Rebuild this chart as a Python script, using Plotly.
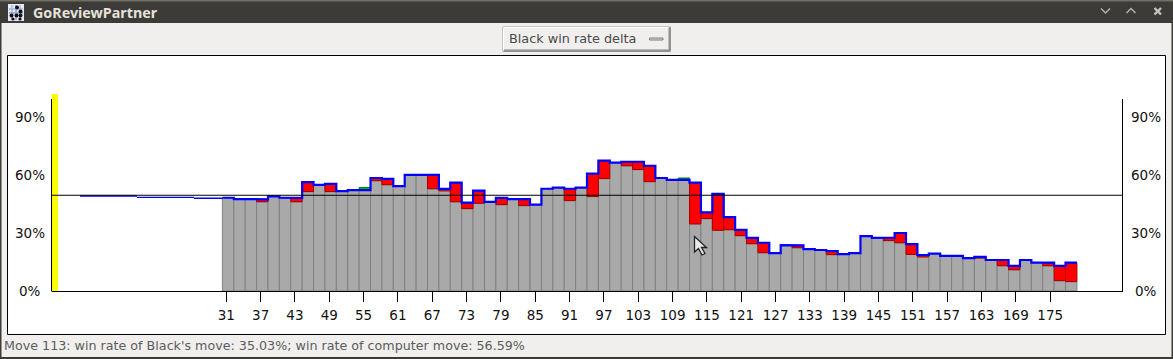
import plotly.graph_objects as go

W, H = 1173, 359

# ---- data (percent) ----
moves = list(range(31, 181, 2))
black_move_rate = [
    48.7, 48.0, 48.0, 46.6, 49.4, 48.7, 46.6, 51.9, 55.4, 51.9,
    52.2, 52.7, 54.1, 57.6, 55.5, 54.8, 60.6, 60.6, 53.4, 52.3,
    46.6, 43.0, 45.8, 46.5, 45.1, 48.0, 44.6, 45.1, 53.4, 54.0,
    47.2, 54.0, 49.3, 58.7, 67.0, 65.4, 63.4, 57.1, 59.0, 58.0,
    59.0, 35.03, 37.8, 31.7, 32.0, 28.9, 24.7, 20.0, 19.8, 24.0,
    22.6, 21.9, 21.4, 19.0, 19.3, 19.8, 28.7, 27.7, 26.3, 25.2,
    19.1, 17.8, 19.5, 18.3, 18.3, 17.2, 17.2, 16.2, 13.2, 11.1,
    16.2, 14.8, 13.2, 5.4, 4.9,
]
computer_move_rate = [
    48.7, 48.0, 48.0, 47.9, 49.4, 48.7, 48.6, 56.9, 55.4, 55.9,
    52.2, 52.7, 52.7, 59.0, 58.5, 54.8, 60.6, 60.6, 60.6, 53.3,
    56.6, 46.1, 52.4, 46.5, 48.6, 48.0, 48.0, 45.1, 53.4, 54.0,
    53.4, 54.0, 61.3, 68.1, 67.0, 67.5, 67.5, 65.4, 59.0, 58.0,
    58.0, 56.59, 41.1, 50.7, 38.6, 31.9, 27.7, 25.2, 19.8, 24.0,
    23.8, 21.9, 21.4, 20.9, 19.3, 19.8, 28.7, 27.7, 27.9, 30.3,
    24.5, 18.8, 19.5, 18.3, 18.3, 17.2, 17.8, 16.2, 16.2, 13.1,
    16.2, 14.8, 14.8, 13.1, 14.8,
]
early_edges = [5, 15, 25, 30]
early_rate = [49.6, 48.9, 48.4]
tick_moves = list(range(31, 176, 6))
y_tick_values = [0, 30, 60, 90]
title_text = "GoReviewPartner"
menu_text = "Black win rate delta"
status_text = "Move 113: win rate of Black's move: 35.03%; win rate of computer move: 56.59%"

# ---- layout helpers ----
def px(x): return x / W
def py(y): return 1 - y / H
def rect(x0, y0, x1, y1, fill, line=None, lw=1, layer="below"):
    return dict(type="rect", xref="paper", yref="paper", x0=px(x0), x1=px(x1), y0=py(y0), y1=py(y1),
                fillcolor=fill, line=dict(color=line or fill, width=lw if line else 0), layer=layer)
def seg(x0, y0, x1, y1, color, lw=1, layer="above"):
    return dict(type="line", xref="paper", yref="paper", x0=px(x0), x1=px(x1), y0=py(y0), y1=py(y1),
                line=dict(color=color, width=lw), layer=layer)
def poly(points, fill="rgba(0,0,0,0)", line="#000", lw=1, layer="above"):
    path = "M " + " L ".join(f"{px(a):.5f},{py(b):.5f}" for a, b in points)
    return dict(type="path", xref="paper", yref="paper", path=path + (" Z" if fill != "rgba(0,0,0,0)" else ""),
                fillcolor=fill, line=dict(color=line, width=lw), layer=layer)
def dot(cx, cy, r, color):
    return dict(type="circle", xref="paper", yref="paper", x0=px(cx-r), x1=px(cx+r), y0=py(cy-r), y1=py(cy+r),
                fillcolor=color, line=dict(width=0), layer="above")

GRAY, GRAY_EDGE = "#a9a9a9", "#808080"
bar_width = 2

gray_h = [min(a, b) for a, b in zip(black_move_rate, computer_move_rate)]
red_m = [m for m, a, b in zip(moves, black_move_rate, computer_move_rate) if b > a]
red_base = [a for a, b in zip(black_move_rate, computer_move_rate) if b > a]
red_h = [b - a for a, b in zip(black_move_rate, computer_move_rate) if b > a]
green_m = [m for m, a, b in zip(moves, black_move_rate, computer_move_rate) if a > b]
green_base = [b for a, b in zip(black_move_rate, computer_move_rate) if a > b]
green_h = [a - b for a, b in zip(black_move_rate, computer_move_rate) if a > b]

step_x, step_y = [], []
for m, b in zip(moves, computer_move_rate):
    step_x += [m - 1, m + 1]
    step_y += [b, b]
early_x, early_y = [], []
for i, v in enumerate(early_rate):
    early_x += [early_edges[i], early_edges[i + 1], None]
    early_y += [v, v, None]

fig = go.Figure()
fig.add_bar(x=moves, y=gray_h, width=bar_width, marker=dict(color=GRAY, line=dict(color=GRAY_EDGE, width=1)), xaxis="x", yaxis="y")
fig.add_bar(x=red_m, y=red_h, base=red_base, width=bar_width, marker=dict(color="#ff0000", line=dict(color="#a00000", width=1)), xaxis="x", yaxis="y")
fig.add_bar(x=green_m, y=green_h, base=green_base, width=bar_width, marker=dict(color="#00b000", line=dict(color="#008000", width=1)), xaxis="x", yaxis="y")
fig.add_scatter(x=step_x, y=step_y, mode="lines", line=dict(color="#0000ff", width=2.2), xaxis="x", yaxis="y")
fig.add_scatter(x=early_x, y=early_y, mode="lines", line=dict(color="#0000ff", width=1.4), xaxis="x", yaxis="y")
fig.add_scatter(x=tick_moves, y=[0] * len(tick_moves), mode="none", xaxis="x2", yaxis="y2", hoverinfo="skip")

plot_l, plot_r, plot_b, plot_t = 51.5, 1122.5, 291.0, 99.5
dom_x = [px(plot_l), px(plot_r)]
dom_y = [py(plot_b), py(plot_t)]

shapes = [
    rect(0, 0, W, 23, "#3c3b37"),
    rect(0, 0, W, 1.5, "#6f6f62"),
    rect(0, 357, W, H, "#3c3b37"),
    rect(0, 23, 1.5, 357, "#3c3b37"),
    rect(W - 1.5, 23, W, 357, "#3c3b37"),
    rect(7.5, 55.5, 1165.5, 334.5, "#ffffff", "#000000", 1),
    # dropdown
    rect(503, 27, 670.5, 51.5, "#f0efed", "#9a9a9a", 1),
    seg(503.5, 27.5, 669, 27.5, "#ffffff"),
    seg(503.5, 27.5, 503.5, 50.5, "#ffffff"),
    seg(504, 50.5, 670, 50.5, "#8e8e8e", 2),
    seg(669.5, 27.5, 669.5, 51, "#8e8e8e", 2),
    rect(649.5, 38, 663, 40, "#d8d8d8", "#808080", 1),
    # plot furniture
    rect(51.5, 94, 58, 291, "#ffff00", layer="above"),
    seg(plot_l, 99, plot_l, 291.5, "#000000"),
    seg(plot_r, 99, plot_r, 291.5, "#000000"),
    dict(type="line", xref="paper", yref="y", x0=px(plot_l), x1=px(plot_r), y0=50, y1=50,
         line=dict(color="#000000", width=1.2), layer="above"),
    # window buttons
    poly([(1101, 8.5), (1105.5, 13), (1110, 8.5)], line="#b5b5b0", lw=1.4),
    poly([(1126.5, 13), (1131, 8.5), (1135.5, 13)], line="#b5b5b0", lw=1.4),
    seg(1154.5, 8, 1161, 14.5, "#c4c4bf", 2.4),
    seg(1161, 8, 1154.5, 14.5, "#c4c4bf", 2.4),
    # title icon
    rect(8, 4, 24, 21, "#e6e9f4", layer="above"),
    seg(12, 5, 12, 20, "#aab6dc", 1.5),
    seg(16, 5, 16, 20, "#8fa0d4", 1.5),
    seg(20, 5, 20, 20, "#aab6dc", 1.5),
    seg(9, 9, 23, 9, "#aab6dc", 1.5),
    seg(9, 13, 23, 13, "#8fa0d4", 1.5),
    dot(17, 7.5, 2, "#111"), dot(20.5, 11.5, 2, "#111"), dot(11.5, 15.5, 2, "#111"),
    dot(16.5, 15.5, 2, "#111"), dot(20.5, 15.5, 2, "#111"), dot(13, 19, 1.6, "#111"), dot(20, 19, 1.6, "#111"),
    # mouse pointer
    poly([(694.5, 236.5), (694.5, 252), (698.5, 248.5), (702, 255), (705, 253.5), (701.5, 247.5), (706.5, 247.5)],
         fill="#e8e8e8", line="#222222", lw=1.3),
]

annotations = [
    dict(text=f"<b>{title_text}</b>", x=px(31), y=py(12.5), xref="paper", yref="paper", xanchor="left", yanchor="middle",
         showarrow=False, font=dict(family="Noto Sans", size=14.3, color="#e4e2dc")),
    dict(text=menu_text, x=px(507), y=py(38.5), xref="paper", yref="paper", xanchor="left", yanchor="middle",
         showarrow=False, font=dict(family="DejaVu Sans", size=12.8, color="#4a4a4a")),
    dict(text=status_text, x=px(1.7), y=py(345.5), xref="paper", yref="paper", xanchor="left", yanchor="middle",
         showarrow=False, font=dict(family="DejaVu Sans", size=12.7, color="#5c5c5c")),
]
for v in y_tick_values:
    for cx in (29.5, 1146):
        annotations.append(dict(text=f"{v}%", x=px(cx), y=v, xref="paper", yref="y2", xanchor="center", yanchor="middle",
                                showarrow=False, font=dict(family="DejaVu Sans", size=13.5, color="#111111"), yshift=0.5))

fig.update_layout(
    width=W, height=H, autosize=False, margin=dict(l=0, r=0, t=0, b=0, pad=0),
    paper_bgcolor="#f0efed", plot_bgcolor="rgba(0,0,0,0)",
    barmode="overlay", showlegend=False, hovermode=False,
    shapes=shapes, annotations=annotations,
    xaxis=dict(domain=dom_x, range=[0, 188], visible=False, fixedrange=True),
    yaxis=dict(domain=dom_y, range=[0, 100], visible=False, fixedrange=True),
    xaxis2=dict(domain=dom_x, range=[0.45, 187.63], overlaying="x", anchor="y", side="bottom",
                tickmode="array", tickvals=tick_moves, ticktext=[str(t) for t in tick_moves],
                ticks="outside", ticklen=10, tickcolor="#000000", tickwidth=1, showgrid=False, zeroline=False,
                showline=True, linecolor="#000000", linewidth=1, ticklabelstandoff=2,
                tickangle=0, tickfont=dict(family="DejaVu Sans", size=13.5, color="#111111"), fixedrange=True),
    yaxis2=dict(domain=dom_y, range=[0, 99.07], overlaying="y", anchor="x2", visible=False, fixedrange=True),
)
fig.write_html("out.html", config=dict(displayModeBar=False),
               post_script="document.body.style.margin='0';document.body.style.overflow='hidden';")
